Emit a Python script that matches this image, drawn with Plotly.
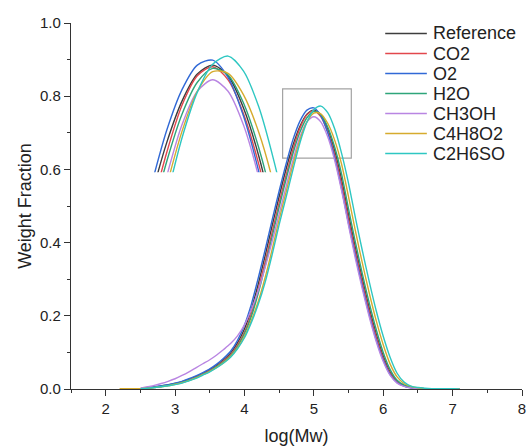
import plotly.graph_objects as go

# ---------------- data ----------------
LOG_MW = [2.2, 2.3, 2.4, 2.5, 2.6, 2.7, 2.8, 2.9, 3.0, 3.1, 3.2, 3.3, 3.4, 3.5, 3.6, 3.7,
          3.8, 3.9, 4.0, 4.1, 4.2, 4.3, 4.4, 4.5, 4.6, 4.7, 4.8, 4.9, 5.0, 5.1, 5.2, 5.3,
          5.4, 5.5, 5.6, 5.7, 5.8, 5.9, 6.0, 6.1, 6.2, 6.3, 6.4, 6.5, 6.6, 6.7, 6.8, 6.9,
          7.0, 7.1]

reference = [None, None, None, 0.001, 0.003, 0.005, 0.008, 0.011, 0.015, 0.020, 0.026, 0.034,
             0.043, 0.053, 0.065, 0.080, 0.098, 0.126, 0.164, 0.218, 0.288, 0.366, 0.447, 0.526,
             0.601, 0.667, 0.718, 0.751, 0.762, 0.749, 0.710, 0.651, 0.572, 0.476, 0.385, 0.300,
             0.220, 0.150, 0.090, 0.046, 0.020, 0.009, 0.004, 0.002, 0.001, 0.001, 0.001, 0.000,
             0.000, 0.000]
co2 = [None, None, None, 0.001, 0.003, 0.005, 0.007, 0.010, 0.014, 0.019, 0.025, 0.032,
       0.041, 0.051, 0.062, 0.077, 0.094, 0.120, 0.155, 0.206, 0.273, 0.349, 0.429, 0.509,
       0.584, 0.655, 0.713, 0.749, 0.760, 0.744, 0.703, 0.641, 0.560, 0.464, 0.374, 0.290,
       0.211, 0.142, 0.084, 0.043, 0.019, 0.008, 0.004, 0.002, 0.001, 0.001, 0.000, 0.000,
       0.000, 0.000]
o2 = [None, None, None, 0.001, 0.003, 0.006, 0.009, 0.012, 0.016, 0.021, 0.028, 0.036,
      0.045, 0.055, 0.068, 0.084, 0.103, 0.133, 0.175, 0.232, 0.304, 0.382, 0.463, 0.541,
      0.615, 0.682, 0.732, 0.762, 0.768, 0.747, 0.700, 0.632, 0.547, 0.452, 0.363, 0.279,
      0.202, 0.134, 0.079, 0.039, 0.017, 0.008, 0.003, 0.002, 0.001, 0.001, 0.000, 0.000,
      0.000, 0.000]
h2o = [None, None, None, 0.001, 0.002, 0.004, 0.007, 0.010, 0.013, 0.018, 0.024, 0.031,
       0.040, 0.049, 0.061, 0.074, 0.091, 0.116, 0.151, 0.199, 0.262, 0.337, 0.417, 0.497,
       0.573, 0.644, 0.702, 0.741, 0.758, 0.750, 0.716, 0.661, 0.587, 0.492, 0.400, 0.314,
       0.234, 0.162, 0.100, 0.053, 0.024, 0.011, 0.005, 0.002, 0.001, 0.001, 0.001, 0.000,
       0.000, 0.000]
ch3oh = [None, None, None, 0.002, 0.006, 0.010, 0.015, 0.021, 0.028, 0.037, 0.047, 0.058,
         0.069, 0.080, 0.093, 0.108, 0.124, 0.145, 0.175, 0.217, 0.270, 0.334, 0.404, 0.478,
         0.553, 0.626, 0.689, 0.730, 0.744, 0.730, 0.689, 0.625, 0.542, 0.447, 0.355, 0.272,
         0.196, 0.129, 0.075, 0.037, 0.016, 0.007, 0.003, 0.001, 0.001, 0.000, 0.000, 0.000,
         0.000, 0.000]
c4h8o2 = [0.001, 0.001, 0.001, 0.001, 0.002, 0.004, 0.006, 0.009, 0.013, 0.017, 0.023, 0.030,
          0.039, 0.048, 0.059, 0.072, 0.089, 0.112, 0.144, 0.188, 0.240, 0.306, 0.382, 0.463,
          0.538, 0.614, 0.681, 0.730, 0.754, 0.752, 0.726, 0.680, 0.614, 0.525, 0.431, 0.343,
          0.261, 0.186, 0.121, 0.068, 0.033, 0.015, 0.007, 0.003, 0.001, 0.001, 0.001, 0.000,
          0.000, 0.000]
c2h6so = [None, None, None, 0.001, 0.002, 0.004, 0.006, 0.009, 0.012, 0.016, 0.022, 0.029,
          0.038, 0.047, 0.058, 0.071, 0.087, 0.110, 0.140, 0.182, 0.232, 0.293, 0.368, 0.449,
          0.524, 0.600, 0.673, 0.729, 0.763, 0.773, 0.755, 0.711, 0.644, 0.562, 0.467, 0.377,
          0.292, 0.213, 0.144, 0.086, 0.043, 0.019, 0.008, 0.004, 0.002, 0.001, 0.001, 0.001,
          0.001, 0.000]

SERIES_NAMES = ["Reference", "CO2", "O2", "H2O", "CH3OH", "C4H8O2", "C2H6SO"]
SERIES_VALUES = [reference, co2, o2, h2o, ch3oh, c4h8o2, c2h6so]

X_TICKS = [2, 3, 4, 5, 6, 7, 8]
Y_TICKS = [0.0, 0.2, 0.4, 0.6, 0.8, 1.0]
Y_TICK_LABELS = ["0.0", "0.2", "0.4", "0.6", "0.8", "1.0"]

# zoom window shown in the inset
ZOOM_X = [4.55, 5.54]
ZOOM_Y = [0.631, 0.82]

# ---------------- styles ----------------
COLORS = ["#3d3d3d", "#e2474d", "#3169d6", "#2ea57a", "#b985e2", "#d6ab2e", "#2ec7c2"]
AXIS_COLOR = "#333333"
TEXT_COLOR = "#222222"
FONT = "Liberation Sans, Arial, sans-serif"

W, H = 529, 447
ML, MR, MT, MB = 71, 3, 23, 58
PW, PH = W - ML - MR, H - MT - MB


def px_to_paper(px, py):
    return (px - ML) / PW, (H - MB - py) / PH


fig = go.Figure()
for name, vals, col in zip(SERIES_NAMES, SERIES_VALUES, COLORS):
    fig.add_trace(go.Scatter(x=LOG_MW, y=vals, name=name, mode="lines", showlegend=False,
                             line=dict(color=col, width=1.4, shape="spline", smoothing=0.8),
                             connectgaps=False, xaxis="x", yaxis="y"))
for name, vals, col in zip(SERIES_NAMES, SERIES_VALUES, COLORS):
    fig.add_trace(go.Scatter(x=LOG_MW, y=vals, name=name, mode="lines", showlegend=False,
                             line=dict(color=col, width=1.4, shape="spline", smoothing=0.8),
                             connectgaps=False, xaxis="x2", yaxis="y2"))

fig.add_shape(type="rect", xref="x", yref="y", x0=ZOOM_X[0], x1=ZOOM_X[1],
              y0=ZOOM_Y[0], y1=ZOOM_Y[1], line=dict(color="#a3a3a3", width=1.2),
              layer="below")

# legend drawn as line samples + text
LEG_X0, LEG_X1, LEG_TX, LEG_Y0, LEG_DY = 388, 430, 434, 33.5, 20.0
for i, (name, col) in enumerate(zip(SERIES_NAMES, COLORS)):
    yy = LEG_Y0 + i * LEG_DY
    xa, ya = px_to_paper(LEG_X0, yy)
    xb, _ = px_to_paper(LEG_X1, yy)
    xt, _ = px_to_paper(LEG_TX, yy)
    fig.add_shape(type="line", xref="paper", yref="paper", x0=xa, x1=xb, y0=ya, y1=ya,
                  line=dict(color=col, width=1.6))
    fig.add_annotation(xref="paper", yref="paper", x=xt, y=ya, text=name, showarrow=False,
                       xanchor="left", yanchor="middle",
                       font=dict(size=18, family=FONT, color=TEXT_COLOR))

axis_common = dict(showline=True, linecolor=AXIS_COLOR, linewidth=1.3, showgrid=False,
                   zeroline=False, ticks="outside", ticklen=6, tickwidth=1.3,
                   tickcolor=AXIS_COLOR, tickfont=dict(size=15, color=TEXT_COLOR, family=FONT))

fig.update_layout(
    width=W, height=H,
    margin=dict(l=ML, r=MR, t=MT, b=MB),
    paper_bgcolor="white", plot_bgcolor="rgba(0,0,0,0)",
    font=dict(family=FONT, color=TEXT_COLOR),
    showlegend=False,
    xaxis=dict(range=[1.5, 8], tickvals=X_TICKS, ticklabeloverflow="allow",
               title=dict(text="log(Mw)", font=dict(size=18, family=FONT, color=TEXT_COLOR),
                          standoff=13),
               minor=dict(ticks="outside", ticklen=3, dtick=0.5, tick0=1.5,
                          tickwidth=1.3, tickcolor=AXIS_COLOR),
               **axis_common),
    yaxis=dict(range=[0, 1.0], tickvals=Y_TICKS, ticktext=Y_TICK_LABELS,
               title=dict(text="Weight Fraction", font=dict(size=18, family=FONT, color=TEXT_COLOR),
                          standoff=3),
               minor=dict(ticks="outside", ticklen=3, dtick=0.1, tick0=0,
                          tickwidth=1.3, tickcolor=AXIS_COLOR),
               **axis_common),
    xaxis2=dict(domain=[0.161, 0.498], range=ZOOM_X, visible=False, anchor="y2",
                showgrid=False, zeroline=False),
    yaxis2=dict(domain=[0.592, 0.97], range=[ZOOM_Y[0], 0.80], visible=False, anchor="x2",
                showgrid=False, zeroline=False),
)

fig.write_html("out.html")
